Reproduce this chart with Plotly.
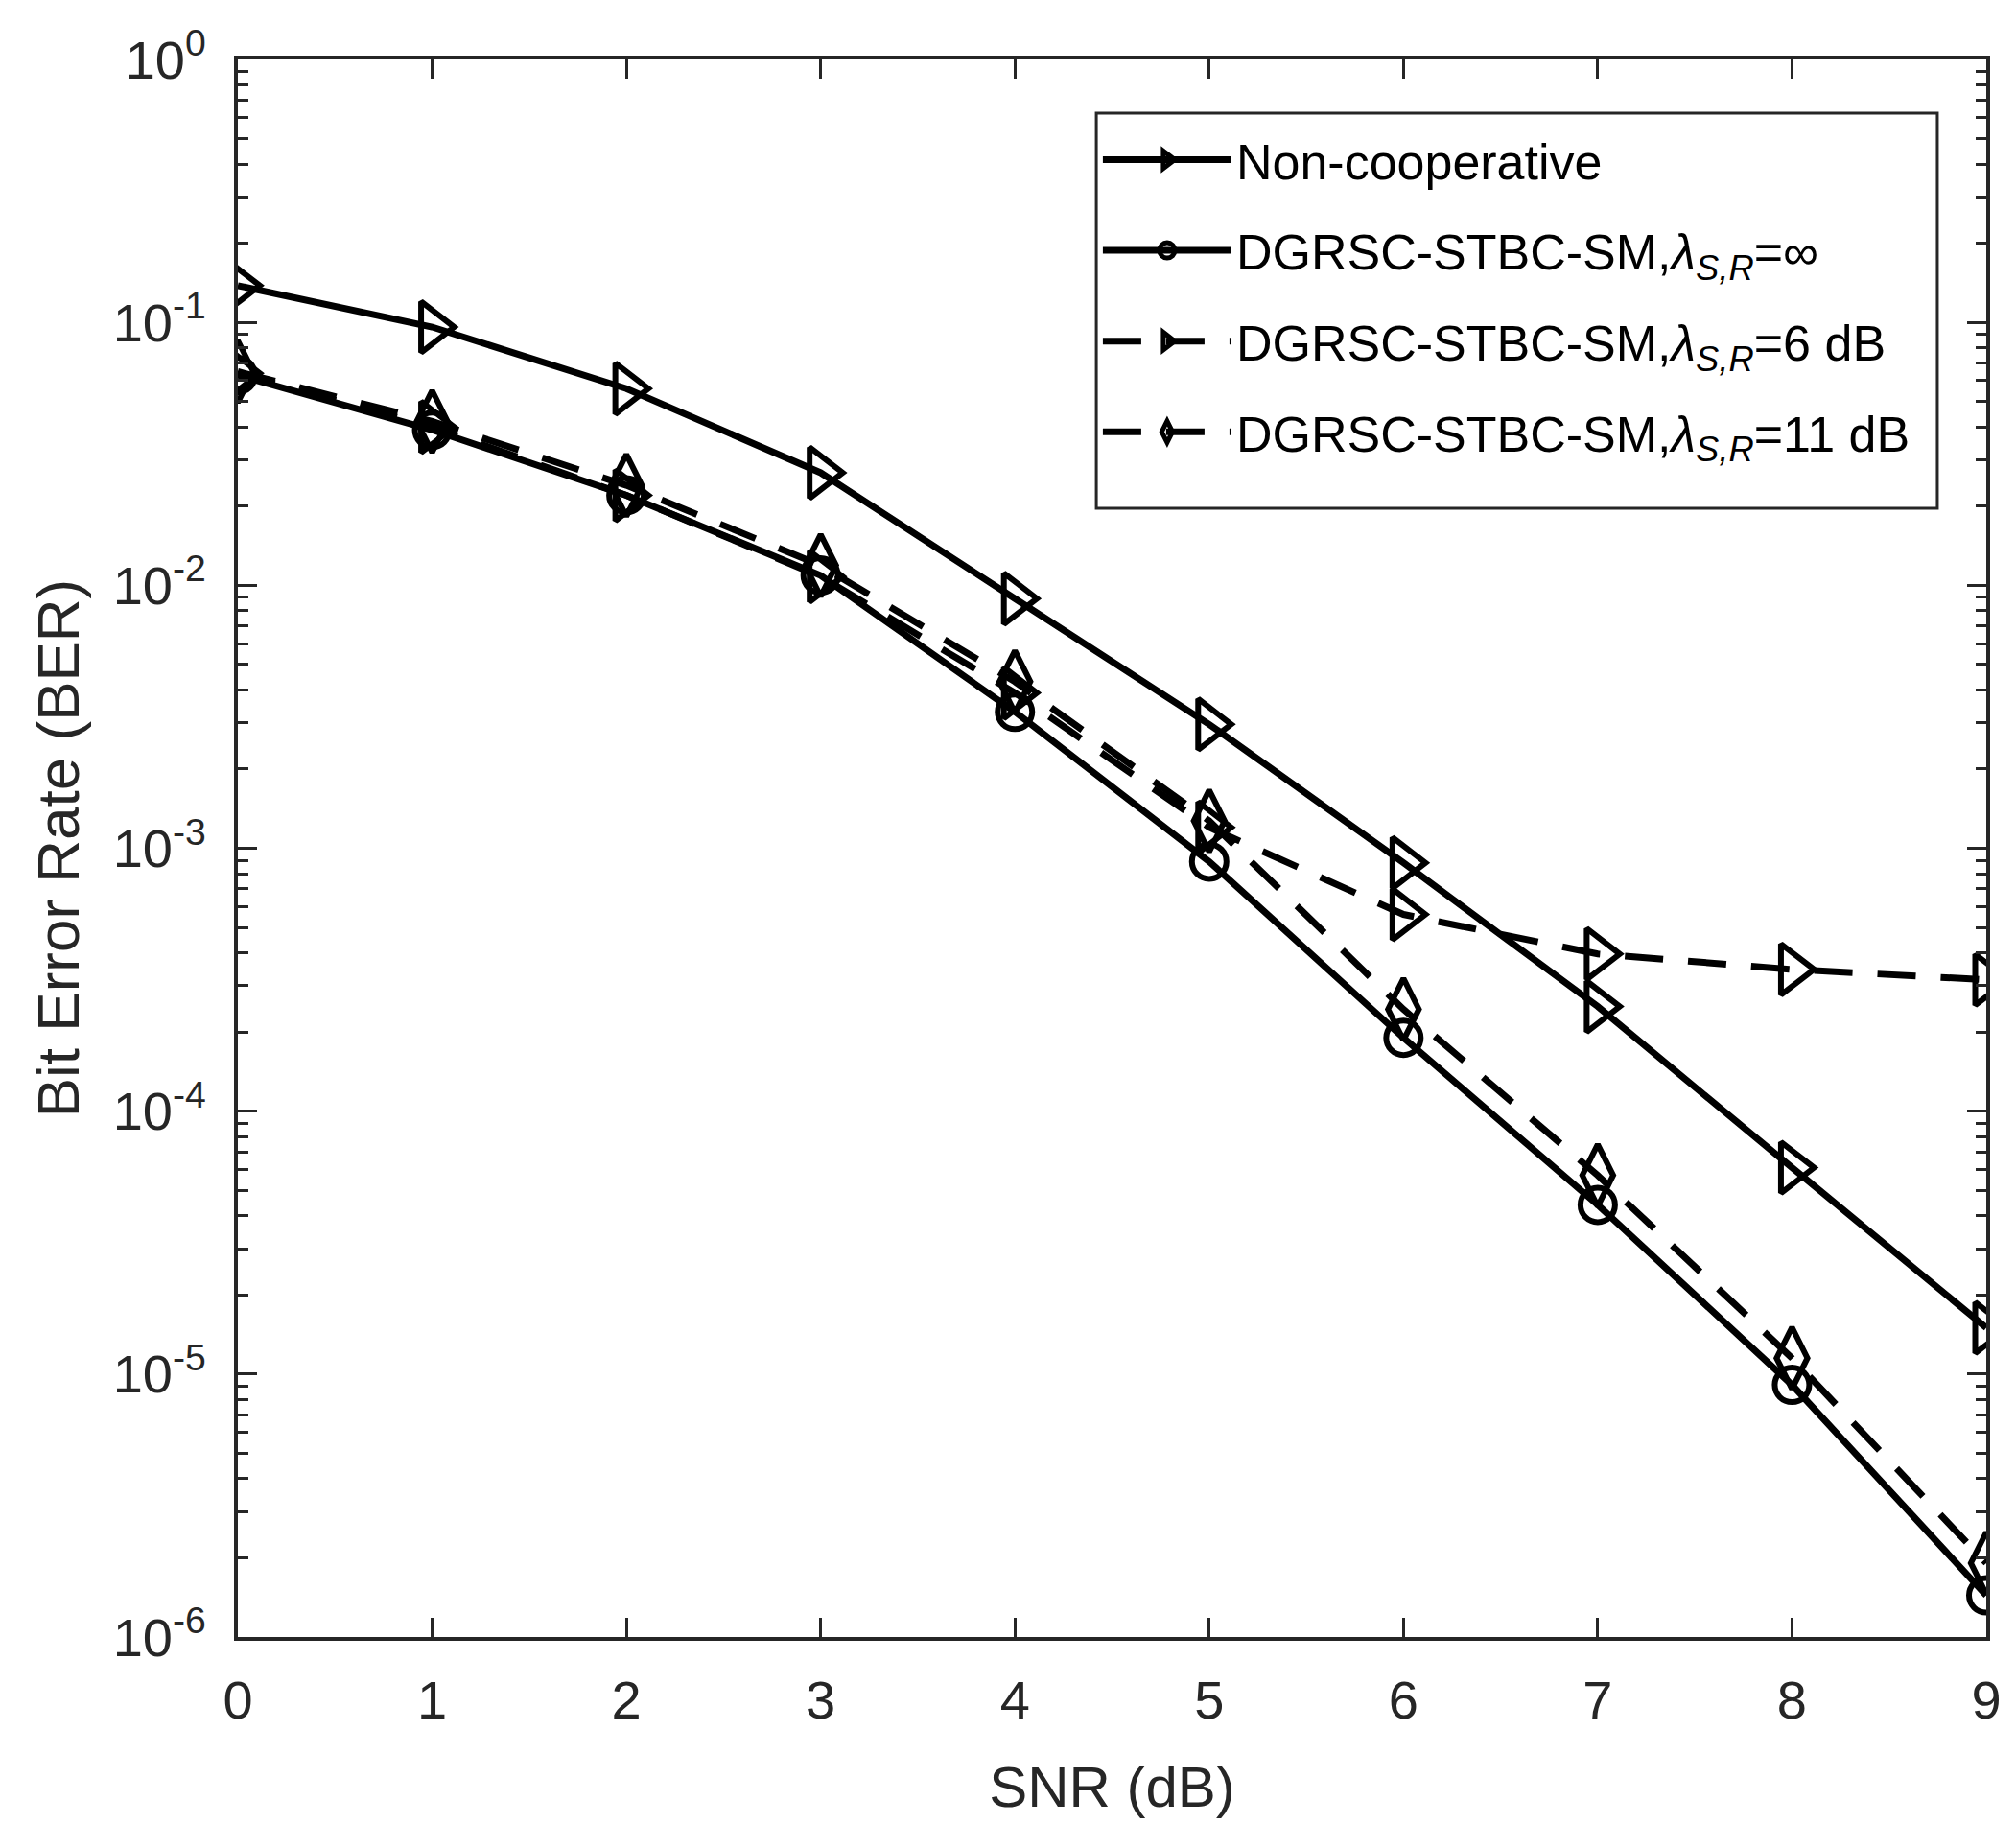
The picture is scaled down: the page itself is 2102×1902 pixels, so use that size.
import plotly.graph_objects as go

snr_db = [0, 1, 2, 3, 4, 5, 6, 7, 8, 9]

ber_noncoop = [0.138, 0.096, 0.056, 0.0268, 0.0089, 0.00296, 8.8e-4, 2.5e-4, 6.1e-5, 1.5e-5]
ber_inf = [0.063, 0.039, 0.022, 0.0109, 0.0033, 8.9e-4, 1.9e-4, 4.4e-5, 9.1e-6, 1.44e-6]
ber_6db = [0.064, 0.040, 0.022, 0.0108, 0.0039, 0.0012, 5.6e-4, 3.96e-4, 3.46e-4, 3.16e-4]
ber_11db = [0.065, 0.042, 0.024, 0.0119, 0.0043, 0.00127, 2.44e-4, 5.7e-5, 1.15e-5, 1.91e-6]

names = [
    "Non-cooperative",
    "DGRSC-STBC-SM,<i>λ</i><sub><i>S,R</i></sub>=∞",
    "DGRSC-STBC-SM,<i>λ</i><sub><i>S,R</i></sub>=6 dB",
    "DGRSC-STBC-SM,<i>λ</i><sub><i>S,R</i></sub>=11 dB",
]

ytick_vals = [1e-6, 1e-5, 1e-4, 1e-3, 1e-2, 1e-1, 1]
ytick_text = ["10<sup>-6</sup>", "10<sup>-5</sup>", "10<sup>-4</sup>", "10<sup>-3</sup>",
              "10<sup>-2</sup>", "10<sup>-1</sup>", "10<sup>0</sup>"]

LW = 7
series = [
    (ber_noncoop, names[0], "triangle-right-open", "solid", 46),
    (ber_inf, names[1], "circle-open", "solid", 36),
    (ber_6db, names[2], "triangle-right-open", "40px,26px", 46),
    (ber_11db, names[3], "diamond-tall-open", "40px,26px", 46),
]

fig = go.Figure()
for i, (ys, nm, sym, dash, sz) in enumerate(series):
    fig.add_trace(go.Scatter(
        x=snr_db, y=ys, name=nm, mode="lines+markers",
        legendgroup="g{}".format(i),
        line=dict(color="black", width=LW, dash=dash),
        marker=dict(symbol=sym, size=sz, color="black",
                    line=dict(color="black", width=6)),
    ))

axis_font = dict(family="Liberation Sans, Arial, sans-serif", size=56, color="#262626")

# legend frame drawn as a box so its padding matches the original
fig.add_shape(type="rect", xref="paper", yref="paper",
              x0=0.491, x1=0.972, y0=0.7155, y1=0.966,
              line=dict(color="#262626", width=3), fillcolor="white", layer="above")

fig.update_layout(
    width=2102, height=1902,
    margin=dict(l=240, r=39, t=54, b=203),
    paper_bgcolor="white", plot_bgcolor="white",
    font=dict(family="Liberation Sans, Arial, sans-serif", color="black"),
    showlegend=True,
    legend=dict(
        x=0.492, y=0.961, xanchor="left", yanchor="top",
        bgcolor="rgba(0,0,0,0)", borderwidth=0,
        font=dict(size=52, color="black"),
        itemwidth=134, tracegroupgap=24,
    ),
)

fig.update_xaxes(
    range=[0, 9], tickvals=snr_db,
    showline=True, linecolor="#262626", linewidth=4, mirror="allticks",
    ticks="inside", ticklen=20, tickwidth=3, tickcolor="#262626",
    showgrid=False, zeroline=False, tickfont=axis_font,
    ticklabelstandoff=14,
    title=dict(text="SNR (dB)", font=dict(size=60, color="#262626"), standoff=40),
)
fig.update_yaxes(
    type="log", range=[-6, 0], tickvals=ytick_vals, ticktext=ytick_text,
    showline=True, linecolor="#262626", linewidth=4, mirror="allticks",
    ticks="inside", ticklen=20, tickwidth=3, tickcolor="#262626",
    minor=dict(ticks="inside", ticklen=11, tickwidth=3, tickcolor="#262626",
               dtick="D1", showgrid=False),
    showgrid=False, zeroline=False, tickfont=axis_font,
    ticklabelstandoff=18,
    title=dict(text="Bit Error Rate (BER)", font=dict(size=62, color="#262626"), standoff=16),
)

fig.write_html("out.html")
